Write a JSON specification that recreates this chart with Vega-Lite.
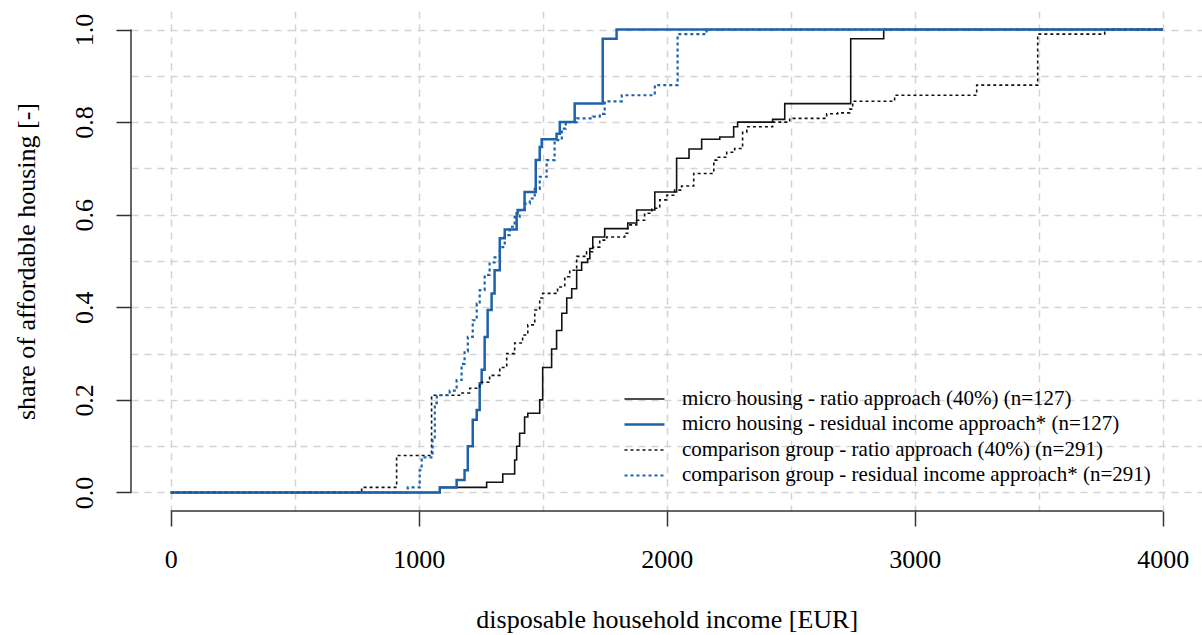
{
  "$schema": "https://vega.github.io/schema/vega-lite/v6.json",
  "width": 1071.4,
  "height": 500,
  "autosize": {"type": "none"},
  "padding": {"left": 131, "top": 11, "right": 0, "bottom": 124},
  "background": "white",
  "config": {"view": {"stroke": null}, "font": "Liberation Serif"},
  "datasets": {
    "curves": [
      {"series": "micro housing - ratio approach (40%) (n=127)", "income": 0, "share": 0},
      {"series": "micro housing - ratio approach (40%) (n=127)", "income": 1085, "share": 0.011},
      {"series": "micro housing - ratio approach (40%) (n=127)", "income": 1274, "share": 0.022},
      {"series": "micro housing - ratio approach (40%) (n=127)", "income": 1339, "share": 0.04},
      {"series": "micro housing - ratio approach (40%) (n=127)", "income": 1387, "share": 0.07},
      {"series": "micro housing - ratio approach (40%) (n=127)", "income": 1395, "share": 0.1},
      {"series": "micro housing - ratio approach (40%) (n=127)", "income": 1407, "share": 0.128},
      {"series": "micro housing - ratio approach (40%) (n=127)", "income": 1427, "share": 0.163},
      {"series": "micro housing - ratio approach (40%) (n=127)", "income": 1440, "share": 0.171},
      {"series": "micro housing - ratio approach (40%) (n=127)", "income": 1488, "share": 0.2},
      {"series": "micro housing - ratio approach (40%) (n=127)", "income": 1500, "share": 0.27},
      {"series": "micro housing - ratio approach (40%) (n=127)", "income": 1536, "share": 0.31},
      {"series": "micro housing - ratio approach (40%) (n=127)", "income": 1556, "share": 0.35},
      {"series": "micro housing - ratio approach (40%) (n=127)", "income": 1577, "share": 0.387},
      {"series": "micro housing - ratio approach (40%) (n=127)", "income": 1597, "share": 0.42},
      {"series": "micro housing - ratio approach (40%) (n=127)", "income": 1617, "share": 0.44},
      {"series": "micro housing - ratio approach (40%) (n=127)", "income": 1637, "share": 0.48},
      {"series": "micro housing - ratio approach (40%) (n=127)", "income": 1657, "share": 0.497},
      {"series": "micro housing - ratio approach (40%) (n=127)", "income": 1681, "share": 0.505},
      {"series": "micro housing - ratio approach (40%) (n=127)", "income": 1690, "share": 0.527},
      {"series": "micro housing - ratio approach (40%) (n=127)", "income": 1702, "share": 0.552},
      {"series": "micro housing - ratio approach (40%) (n=127)", "income": 1750, "share": 0.57},
      {"series": "micro housing - ratio approach (40%) (n=127)", "income": 1843, "share": 0.582},
      {"series": "micro housing - ratio approach (40%) (n=127)", "income": 1879, "share": 0.61},
      {"series": "micro housing - ratio approach (40%) (n=127)", "income": 1952, "share": 0.649},
      {"series": "micro housing - ratio approach (40%) (n=127)", "income": 2040, "share": 0.722},
      {"series": "micro housing - ratio approach (40%) (n=127)", "income": 2090, "share": 0.742},
      {"series": "micro housing - ratio approach (40%) (n=127)", "income": 2141, "share": 0.763},
      {"series": "micro housing - ratio approach (40%) (n=127)", "income": 2214, "share": 0.768},
      {"series": "micro housing - ratio approach (40%) (n=127)", "income": 2270, "share": 0.79},
      {"series": "micro housing - ratio approach (40%) (n=127)", "income": 2286, "share": 0.8},
      {"series": "micro housing - ratio approach (40%) (n=127)", "income": 2427, "share": 0.806},
      {"series": "micro housing - ratio approach (40%) (n=127)", "income": 2476, "share": 0.84},
      {"series": "micro housing - ratio approach (40%) (n=127)", "income": 2742, "share": 0.98},
      {"series": "micro housing - ratio approach (40%) (n=127)", "income": 2875, "share": 1.0},
      {"series": "micro housing - ratio approach (40%) (n=127)", "income": 4000, "share": 1.0},

      {"series": "micro housing - residual income approach* (n=127)", "income": 0, "share": 0},
      {"series": "micro housing - residual income approach* (n=127)", "income": 1085, "share": 0.011},
      {"series": "micro housing - residual income approach* (n=127)", "income": 1153, "share": 0.027},
      {"series": "micro housing - residual income approach* (n=127)", "income": 1185, "share": 0.048},
      {"series": "micro housing - residual income approach* (n=127)", "income": 1198, "share": 0.1},
      {"series": "micro housing - residual income approach* (n=127)", "income": 1218, "share": 0.157},
      {"series": "micro housing - residual income approach* (n=127)", "income": 1234, "share": 0.178},
      {"series": "micro housing - residual income approach* (n=127)", "income": 1246, "share": 0.236},
      {"series": "micro housing - residual income approach* (n=127)", "income": 1254, "share": 0.265},
      {"series": "micro housing - residual income approach* (n=127)", "income": 1266, "share": 0.336},
      {"series": "micro housing - residual income approach* (n=127)", "income": 1278, "share": 0.394},
      {"series": "micro housing - residual income approach* (n=127)", "income": 1294, "share": 0.43},
      {"series": "micro housing - residual income approach* (n=127)", "income": 1306, "share": 0.48},
      {"series": "micro housing - residual income approach* (n=127)", "income": 1327, "share": 0.549},
      {"series": "micro housing - residual income approach* (n=127)", "income": 1347, "share": 0.568},
      {"series": "micro housing - residual income approach* (n=127)", "income": 1395, "share": 0.603},
      {"series": "micro housing - residual income approach* (n=127)", "income": 1399, "share": 0.61},
      {"series": "micro housing - residual income approach* (n=127)", "income": 1427, "share": 0.649},
      {"series": "micro housing - residual income approach* (n=127)", "income": 1472, "share": 0.718},
      {"series": "micro housing - residual income approach* (n=127)", "income": 1488, "share": 0.746},
      {"series": "micro housing - residual income approach* (n=127)", "income": 1496, "share": 0.763},
      {"series": "micro housing - residual income approach* (n=127)", "income": 1556, "share": 0.775},
      {"series": "micro housing - residual income approach* (n=127)", "income": 1569, "share": 0.8},
      {"series": "micro housing - residual income approach* (n=127)", "income": 1629, "share": 0.84},
      {"series": "micro housing - residual income approach* (n=127)", "income": 1742, "share": 0.98},
      {"series": "micro housing - residual income approach* (n=127)", "income": 1798, "share": 1.0},
      {"series": "micro housing - residual income approach* (n=127)", "income": 4000, "share": 1.0},

      {"series": "comparison group - ratio approach (40%) (n=291)", "income": 0, "share": 0},
      {"series": "comparison group - ratio approach (40%) (n=291)", "income": 770, "share": 0.011},
      {"series": "comparison group - ratio approach (40%) (n=291)", "income": 911, "share": 0.08},
      {"series": "comparison group - ratio approach (40%) (n=291)", "income": 1052, "share": 0.21},
      {"series": "comparison group - ratio approach (40%) (n=291)", "income": 1165, "share": 0.215},
      {"series": "comparison group - ratio approach (40%) (n=291)", "income": 1206, "share": 0.225},
      {"series": "comparison group - ratio approach (40%) (n=291)", "income": 1246, "share": 0.238},
      {"series": "comparison group - ratio approach (40%) (n=291)", "income": 1286, "share": 0.253},
      {"series": "comparison group - ratio approach (40%) (n=291)", "income": 1327, "share": 0.27},
      {"series": "comparison group - ratio approach (40%) (n=291)", "income": 1355, "share": 0.3},
      {"series": "comparison group - ratio approach (40%) (n=291)", "income": 1387, "share": 0.323},
      {"series": "comparison group - ratio approach (40%) (n=291)", "income": 1419, "share": 0.34},
      {"series": "comparison group - ratio approach (40%) (n=291)", "income": 1440, "share": 0.362},
      {"series": "comparison group - ratio approach (40%) (n=291)", "income": 1468, "share": 0.394},
      {"series": "comparison group - ratio approach (40%) (n=291)", "income": 1488, "share": 0.42},
      {"series": "comparison group - ratio approach (40%) (n=291)", "income": 1500, "share": 0.43},
      {"series": "comparison group - ratio approach (40%) (n=291)", "income": 1560, "share": 0.444},
      {"series": "comparison group - ratio approach (40%) (n=291)", "income": 1589, "share": 0.466},
      {"series": "comparison group - ratio approach (40%) (n=291)", "income": 1609, "share": 0.48},
      {"series": "comparison group - ratio approach (40%) (n=291)", "income": 1637, "share": 0.51},
      {"series": "comparison group - ratio approach (40%) (n=291)", "income": 1677, "share": 0.52},
      {"series": "comparison group - ratio approach (40%) (n=291)", "income": 1702, "share": 0.53},
      {"series": "comparison group - ratio approach (40%) (n=291)", "income": 1730, "share": 0.545},
      {"series": "comparison group - ratio approach (40%) (n=291)", "income": 1758, "share": 0.552},
      {"series": "comparison group - ratio approach (40%) (n=291)", "income": 1831, "share": 0.56},
      {"series": "comparison group - ratio approach (40%) (n=291)", "income": 1843, "share": 0.578},
      {"series": "comparison group - ratio approach (40%) (n=291)", "income": 1879, "share": 0.588},
      {"series": "comparison group - ratio approach (40%) (n=291)", "income": 1911, "share": 0.603},
      {"series": "comparison group - ratio approach (40%) (n=291)", "income": 1940, "share": 0.614},
      {"series": "comparison group - ratio approach (40%) (n=291)", "income": 1972, "share": 0.632},
      {"series": "comparison group - ratio approach (40%) (n=291)", "income": 2000, "share": 0.642},
      {"series": "comparison group - ratio approach (40%) (n=291)", "income": 2032, "share": 0.653},
      {"series": "comparison group - ratio approach (40%) (n=291)", "income": 2060, "share": 0.662},
      {"series": "comparison group - ratio approach (40%) (n=291)", "income": 2109, "share": 0.689},
      {"series": "comparison group - ratio approach (40%) (n=291)", "income": 2190, "share": 0.718},
      {"series": "comparison group - ratio approach (40%) (n=291)", "income": 2202, "share": 0.724},
      {"series": "comparison group - ratio approach (40%) (n=291)", "income": 2242, "share": 0.735},
      {"series": "comparison group - ratio approach (40%) (n=291)", "income": 2274, "share": 0.743},
      {"series": "comparison group - ratio approach (40%) (n=291)", "income": 2306, "share": 0.778},
      {"series": "comparison group - ratio approach (40%) (n=291)", "income": 2323, "share": 0.79},
      {"series": "comparison group - ratio approach (40%) (n=291)", "income": 2427, "share": 0.8},
      {"series": "comparison group - ratio approach (40%) (n=291)", "income": 2496, "share": 0.808},
      {"series": "comparison group - ratio approach (40%) (n=291)", "income": 2645, "share": 0.818},
      {"series": "comparison group - ratio approach (40%) (n=291)", "income": 2690, "share": 0.82},
      {"series": "comparison group - ratio approach (40%) (n=291)", "income": 2738, "share": 0.828},
      {"series": "comparison group - ratio approach (40%) (n=291)", "income": 2750, "share": 0.845},
      {"series": "comparison group - ratio approach (40%) (n=291)", "income": 2919, "share": 0.858},
      {"series": "comparison group - ratio approach (40%) (n=291)", "income": 3250, "share": 0.88},
      {"series": "comparison group - ratio approach (40%) (n=291)", "income": 3496, "share": 0.99},
      {"series": "comparison group - ratio approach (40%) (n=291)", "income": 3766, "share": 1.0},
      {"series": "comparison group - ratio approach (40%) (n=291)", "income": 4000, "share": 1.0},

      {"series": "comparison group - residual income approach* (n=291)", "income": 0, "share": 0},
      {"series": "comparison group - residual income approach* (n=291)", "income": 956, "share": 0.011},
      {"series": "comparison group - residual income approach* (n=291)", "income": 1004, "share": 0.048},
      {"series": "comparison group - residual income approach* (n=291)", "income": 1012, "share": 0.076},
      {"series": "comparison group - residual income approach* (n=291)", "income": 1056, "share": 0.113},
      {"series": "comparison group - residual income approach* (n=291)", "income": 1065, "share": 0.193},
      {"series": "comparison group - residual income approach* (n=291)", "income": 1073, "share": 0.21},
      {"series": "comparison group - residual income approach* (n=291)", "income": 1125, "share": 0.22},
      {"series": "comparison group - residual income approach* (n=291)", "income": 1153, "share": 0.243},
      {"series": "comparison group - residual income approach* (n=291)", "income": 1173, "share": 0.278},
      {"series": "comparison group - residual income approach* (n=291)", "income": 1185, "share": 0.305},
      {"series": "comparison group - residual income approach* (n=291)", "income": 1198, "share": 0.336},
      {"series": "comparison group - residual income approach* (n=291)", "income": 1218, "share": 0.372},
      {"series": "comparison group - residual income approach* (n=291)", "income": 1234, "share": 0.408},
      {"series": "comparison group - residual income approach* (n=291)", "income": 1246, "share": 0.437},
      {"series": "comparison group - residual income approach* (n=291)", "income": 1266, "share": 0.47},
      {"series": "comparison group - residual income approach* (n=291)", "income": 1286, "share": 0.497},
      {"series": "comparison group - residual income approach* (n=291)", "income": 1306, "share": 0.508},
      {"series": "comparison group - residual income approach* (n=291)", "income": 1327, "share": 0.53},
      {"series": "comparison group - residual income approach* (n=291)", "income": 1347, "share": 0.556},
      {"series": "comparison group - residual income approach* (n=291)", "income": 1367, "share": 0.574},
      {"series": "comparison group - residual income approach* (n=291)", "income": 1387, "share": 0.595},
      {"series": "comparison group - residual income approach* (n=291)", "income": 1407, "share": 0.61},
      {"series": "comparison group - residual income approach* (n=291)", "income": 1427, "share": 0.624},
      {"series": "comparison group - residual income approach* (n=291)", "income": 1448, "share": 0.635},
      {"series": "comparison group - residual income approach* (n=291)", "income": 1468, "share": 0.656},
      {"series": "comparison group - residual income approach* (n=291)", "income": 1488, "share": 0.682},
      {"series": "comparison group - residual income approach* (n=291)", "income": 1516, "share": 0.718},
      {"series": "comparison group - residual income approach* (n=291)", "income": 1548, "share": 0.761},
      {"series": "comparison group - residual income approach* (n=291)", "income": 1577, "share": 0.786},
      {"series": "comparison group - residual income approach* (n=291)", "income": 1593, "share": 0.8},
      {"series": "comparison group - residual income approach* (n=291)", "income": 1637, "share": 0.808},
      {"series": "comparison group - residual income approach* (n=291)", "income": 1702, "share": 0.812},
      {"series": "comparison group - residual income approach* (n=291)", "income": 1730, "share": 0.818},
      {"series": "comparison group - residual income approach* (n=291)", "income": 1750, "share": 0.845},
      {"series": "comparison group - residual income approach* (n=291)", "income": 1819, "share": 0.858},
      {"series": "comparison group - residual income approach* (n=291)", "income": 1952, "share": 0.88},
      {"series": "comparison group - residual income approach* (n=291)", "income": 2044, "share": 0.99},
      {"series": "comparison group - residual income approach* (n=291)", "income": 2161, "share": 1.0},
      {"series": "comparison group - residual income approach* (n=291)", "income": 4000, "share": 1.0}
    ]
  },
  "layer": [
    {
      "data": {"name": "curves"},
      "mark": {"type": "line", "interpolate": "step-after", "strokeCap": "butt", "strokeJoin": "miter"},
      "encoding": {
        "x": {
          "field": "income", "type": "quantitative",
          "scale": {"domain": [-160, 4160], "nice": false, "zero": false},
          "axis": {
            "values": [0, 500, 1000, 1500, 2000, 2500, 3000, 3500, 4000],
            "format": "d",
            "domain": false,
            "grid": true, "gridColor": "#d3d3d3", "gridDash": [7, 6], "gridWidth": 1.5,
            "ticks": true, "tickSize": 15, "tickColor": "#333333", "tickWidth": 1.5,
            "tickOpacity": {"condition": {"test": "datum.value % 1000 === 0", "value": 1}, "value": 0},
            "labelExpr": "datum.value % 1000 === 0 ? datum.label : ''",
            "labelFont": "Liberation Serif", "labelFontSize": 26, "labelColor": "black",
            "labelBaseline": "alphabetic", "labelPadding": 42, "labelAlign": "center",
            "labelOverlap": false, "labelFlush": false, "labelBound": false,
            "title": "disposable household income [EUR]",
            "titleFont": "Liberation Serif", "titleFontSize": 26, "titleFontWeight": "normal", "titleColor": "black",
            "titleBaseline": "alphabetic", "titleAlign": "center", "titleX": 535.7, "titleY": 117
          }
        },
        "y": {
          "field": "share", "type": "quantitative",
          "scale": {"domain": [-0.04, 1.04], "nice": false, "zero": false},
          "axis": {
            "values": [0, 0.1, 0.2, 0.3, 0.4, 0.5, 0.6, 0.7, 0.8, 0.9, 1.0],
            "domain": false,
            "grid": true, "gridColor": "#d3d3d3", "gridDash": [7, 6], "gridWidth": 1.5,
            "ticks": true, "tickSize": 15, "tickColor": "#333333", "tickWidth": 1.5,
            "tickOpacity": {"condition": {"test": "round(datum.value * 10) % 2 === 0", "value": 1}, "value": 0},
            "labelExpr": "round(datum.value * 10) % 2 === 0 ? format(datum.value, '.1f') : ''",
            "labelFont": "Liberation Serif", "labelFontSize": 26, "labelColor": "black",
            "labelAngle": -90, "labelAlign": "center", "labelBaseline": "alphabetic", "labelPadding": 23,
            "labelOverlap": false, "labelFlush": false, "labelBound": false,
            "title": "share of affordable housing [-]",
            "titleFont": "Liberation Serif", "titleFontSize": 26, "titleFontWeight": "normal", "titleColor": "black",
            "titleAngle": -90, "titleBaseline": "alphabetic", "titleAlign": "center", "titleX": -96, "titleY": 250
          }
        },
        "color": {
          "field": "series", "type": "nominal",
          "scale": {
            "domain": ["micro housing - ratio approach (40%) (n=127)", "micro housing - residual income approach* (n=127)", "comparison group - ratio approach (40%) (n=291)", "comparison group - residual income approach* (n=291)"],
            "range": ["#111111", "#1d62ab", "#111111", "#1d62ab"]
          },
          "legend": {
            "title": null, "orient": "none", "legendX": 502, "legendY": 377,
            "symbolType": "M-2,0H2", "symbolSize": 400, "padding": 0,
            "labelFont": "Liberation Serif", "labelFontSize": 21, "labelColor": "black",
            "labelOffset": 26, "rowPadding": 4, "labelLimit": 0
          }
        },
        "strokeDash": {
          "field": "series", "type": "nominal",
          "scale": {
            "domain": ["micro housing - ratio approach (40%) (n=127)", "micro housing - residual income approach* (n=127)", "comparison group - ratio approach (40%) (n=291)", "comparison group - residual income approach* (n=291)"],
            "range": [[1, 0], [1, 0], [3, 3], [3, 3]]
          },
          "legend": {
            "title": null, "orient": "none", "legendX": 502, "legendY": 377,
            "symbolType": "M-2,0H2", "symbolSize": 400, "padding": 0,
            "labelFont": "Liberation Serif", "labelFontSize": 21, "labelColor": "black",
            "labelOffset": 26, "rowPadding": 4, "labelLimit": 0
          }
        },
        "strokeWidth": {
          "field": "series", "type": "nominal",
          "scale": {
            "type": "ordinal",
            "domain": ["micro housing - ratio approach (40%) (n=127)", "micro housing - residual income approach* (n=127)", "comparison group - ratio approach (40%) (n=291)", "comparison group - residual income approach* (n=291)"],
            "range": [1.6, 2.5, 1.6, 2.2]
          },
          "legend": {
            "title": null, "orient": "none", "legendX": 502, "legendY": 377,
            "symbolType": "M-2,0H2", "symbolSize": 400, "padding": 0,
            "labelFont": "Liberation Serif", "labelFontSize": 21, "labelColor": "black",
            "labelOffset": 26, "rowPadding": 4, "labelLimit": 0
          }
        }
      }
    },
    {
      "data": {"values": [{}]},
      "mark": {"type": "rule", "color": "#333333", "strokeWidth": 1.5},
      "encoding": {
        "x": {"datum": 0, "type": "quantitative"},
        "x2": {"datum": 4000},
        "y": {"datum": -0.04, "type": "quantitative"}
      }
    },
    {
      "data": {"values": [{}]},
      "mark": {"type": "rule", "color": "#333333", "strokeWidth": 1.5},
      "encoding": {
        "x": {"datum": -160, "type": "quantitative"},
        "y": {"datum": 0, "type": "quantitative"},
        "y2": {"datum": 1}
      }
    }
  ]
}
